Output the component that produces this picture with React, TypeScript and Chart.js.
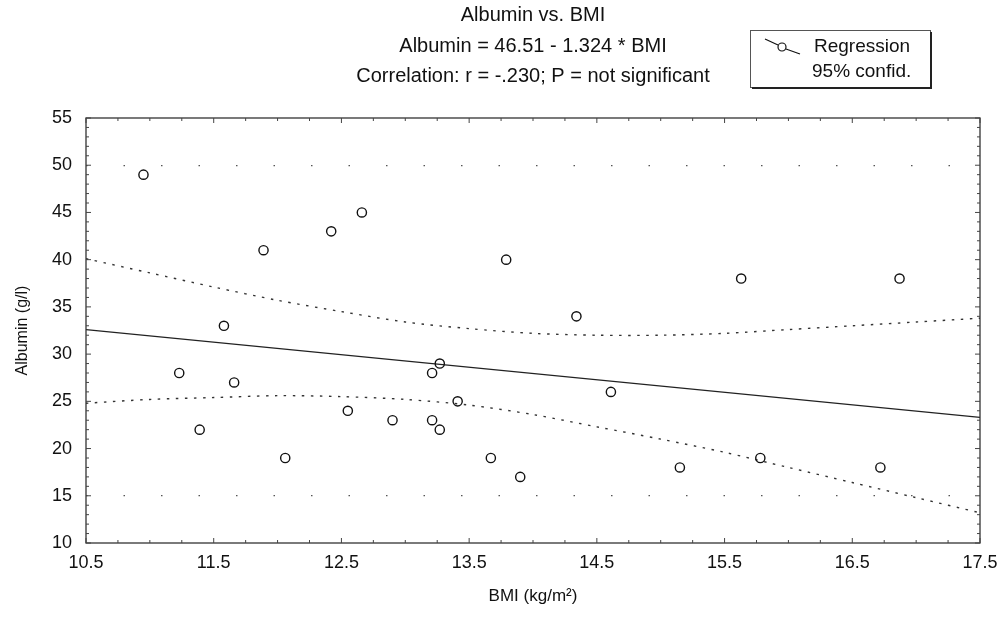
import React, { useEffect, useRef } from "react";
import { Chart, registerables } from "chart.js";

Chart.register(...registerables);

// ---- data ----
const bmi = [10.95, 11.23, 11.39, 11.58, 11.66, 11.89, 12.06, 12.42, 12.55, 12.66, 12.9, 13.21, 13.27, 13.21, 13.27, 13.41, 13.67, 13.9, 13.79, 14.34, 14.61, 15.15, 15.63, 15.78, 16.72, 16.87];
const albumin = [49, 28, 22, 33, 27, 41, 19, 43, 24, 45, 23, 28, 29, 23, 22, 25, 19, 17, 40, 34, 26, 18, 38, 19, 18, 38];

const regX = [10.5, 17.5];
const regY = [32.6, 23.3];

const ciX = [10.5, 11, 11.5, 12, 12.5, 13, 13.5, 14, 14.5, 15, 15.5, 16, 16.5, 17, 17.5];
const ciUpper = [40.1, 38.6, 37.1, 35.7, 34.5, 33.4, 32.7, 32.2, 32.0, 32.0, 32.2, 32.6, 33.0, 33.4, 33.8];
const ciLower = [24.8, 25.2, 25.4, 25.6, 25.5, 25.2, 24.6, 23.6, 22.3, 21.0, 19.6, 18.0, 16.4, 14.8, 13.2];

const xTicks = [10.5, 11.5, 12.5, 13.5, 14.5, 15.5, 16.5, 17.5];
const yTicks = [10, 15, 20, 25, 30, 35, 40, 45, 50, 55];
const dottedGridValues = [15, 50];

const titleLines = [
  "Albumin vs. BMI",
  "Albumin = 46.51 - 1.324 * BMI",
  "Correlation: r = -.230; P = not significant",
];
const legendLabels = ["Regression", "95% confid."];
const xTitle = "BMI (kg/m\u00B2)";
const yTitle = "Albumin (g/l)";

const FONT = "'Liberation Sans', Arial, sans-serif";

const decorPlugin = {
  id: "decor",
  afterDraw(chart: any) {
    const ctx = chart.ctx;
    const { left, right, top, bottom } = chart.chartArea;
    const xs = chart.scales.x;
    const ys = chart.scales.y;
    ctx.save();

    // frame
    ctx.strokeStyle = "#333";
    ctx.lineWidth = 1.3;
    ctx.strokeRect(left, top, right - left, bottom - top);

    // inner minor ticks
    ctx.lineWidth = 1;
    ctx.strokeStyle = "#444";
    ctx.beginPath();
    for (let v = 10.5; v <= 17.5001; v += 0.25) {
      const px = xs.getPixelForValue(v);
      const len = Math.abs((v - 10.5) % 1) < 0.01 ? 5 : 3;
      ctx.moveTo(px, bottom);
      ctx.lineTo(px, bottom - len);
      ctx.moveTo(px, top);
      ctx.lineTo(px, top + len);
    }
    for (let v = 10; v <= 55.001; v += 1) {
      const py = ys.getPixelForValue(v);
      const len = v % 5 === 0 ? 5 : 3;
      ctx.moveTo(left, py);
      ctx.lineTo(left + len, py);
      ctx.moveTo(right, py);
      ctx.lineTo(right - len, py);
    }
    ctx.stroke();

    // titles
    const cx = (left + right) / 2;
    ctx.fillStyle = "#111";
    ctx.font = `20px ${FONT}`;
    ctx.textAlign = "center";
    ctx.textBaseline = "middle";
    const titleYs = [15, 46, 76];
    titleLines.forEach((t, i) => ctx.fillText(t, cx, titleYs[i]));

    // legend box
    const bx = 750, by = 30, bw = 180, bh = 57;
    ctx.fillStyle = "#fff";
    ctx.fillRect(bx, by, bw, bh);
    ctx.strokeStyle = "#555";
    ctx.lineWidth = 1;
    ctx.strokeRect(bx + 0.5, by + 0.5, bw, bh);
    ctx.strokeStyle = "#222";
    ctx.lineWidth = 2;
    ctx.beginPath();
    ctx.moveTo(bx + bw + 1, by + 2);
    ctx.lineTo(bx + bw + 1, by + bh + 1);
    ctx.lineTo(bx + 2, by + bh + 1);
    ctx.stroke();

    // legend symbol
    ctx.strokeStyle = "#111";
    ctx.lineWidth = 1.2;
    ctx.beginPath();
    ctx.moveTo(765, 39);
    ctx.lineTo(778, 45);
    ctx.moveTo(786, 49);
    ctx.lineTo(800, 54);
    ctx.stroke();
    ctx.beginPath();
    ctx.arc(782, 47, 4, 0, Math.PI * 2);
    ctx.stroke();

    ctx.fillStyle = "#111";
    ctx.font = `19px ${FONT}`;
    ctx.textAlign = "left";
    ctx.textBaseline = "middle";
    ctx.fillText(legendLabels[0], 814, 47);
    ctx.fillText(legendLabels[1], 812, 72);

    ctx.restore();
  },
};

export default function App() {
  const ref = useRef<HTMLCanvasElement | null>(null);

  useEffect(() => {
    if (!ref.current) return;
    const chart = new Chart(ref.current, {
      type: "scatter",
      data: {
        datasets: [
          {
            label: "Data",
            data: bmi.map((x, i) => ({ x, y: albumin[i] })),
            pointRadius: 4.6,
            pointBorderWidth: 1.4,
            pointBorderColor: "#111",
            pointBackgroundColor: "rgba(0,0,0,0)",
            showLine: false,
          },
          {
            label: "Regression",
            data: regX.map((x, i) => ({ x, y: regY[i] })),
            showLine: true,
            borderColor: "#222",
            borderWidth: 1.2,
            pointRadius: 0,
          },
          {
            label: "Upper 95%",
            data: ciX.map((x, i) => ({ x, y: ciUpper[i] })),
            showLine: true,
            borderColor: "#333",
            borderWidth: 1.4,
            borderDash: [2.5, 6.5],
            pointRadius: 0,
            tension: 0.3,
          },
          {
            label: "Lower 95%",
            data: ciX.map((x, i) => ({ x, y: ciLower[i] })),
            showLine: true,
            borderColor: "#333",
            borderWidth: 1.4,
            borderDash: [2.5, 6.5],
            pointRadius: 0,
            tension: 0.3,
          },
        ],
      },
      options: {
        responsive: false,
        animation: false,
        events: [],
        layout: { padding: { top: 118, right: 24, left: 0, bottom: 0 } },
        plugins: {
          legend: { display: false },
          title: { display: false },
          tooltip: { enabled: false },
        },
        scales: {
          x: {
            type: "linear",
            min: 10.5,
            max: 17.5,
            afterBuildTicks: (s: any) => {
              s.ticks = xTicks.map((v) => ({ value: v }));
            },
            afterFit: (s: any) => {
              s.height = 78;
              s.paddingLeft = 0;
              s.paddingRight = 0;
            },
            grid: { display: false, drawTicks: false },
            border: { display: false },
            ticks: {
              autoSkip: false,
              maxRotation: 0,
              padding: 9,
              color: "#111",
              font: { family: FONT, size: 18 },
              callback: (v: any) => Number(v).toFixed(1),
            },
            title: {
              display: true,
              text: xTitle,
              color: "#111",
              font: { family: FONT, size: 17 },
              padding: { top: 0, bottom: 14 },
            },
          },
          y: {
            type: "linear",
            min: 10,
            max: 55,
            afterBuildTicks: (s: any) => {
              s.ticks = yTicks.map((v) => ({ value: v }));
            },
            afterFit: (s: any) => {
              s.width = 86;
            },
            grid: {
              drawTicks: false,
              lineWidth: 1.3,
              color: (c: any) =>
                c.tick && dottedGridValues.includes(c.tick.value) ? "#555" : "rgba(0,0,0,0)",
            },
            border: { display: false, dash: [1.5, 36] },
            ticks: {
              autoSkip: false,
              padding: 14,
              color: "#111",
              font: { family: FONT, size: 18 },
            },
            title: {
              display: true,
              text: yTitle,
              color: "#111",
              font: { family: FONT, size: 16 },
              padding: { top: 13, bottom: 0 },
            },
          },
        },
      },
      plugins: [decorPlugin],
    } as any);
    return () => chart.destroy();
  }, []);

  return (
    <div style={{ position: "fixed", left: 0, top: 0, width: 1004, height: 621, background: "#fff" }}>
      <canvas ref={ref} width={1004} height={621} style={{ display: "block" }} />
    </div>
  );
}
